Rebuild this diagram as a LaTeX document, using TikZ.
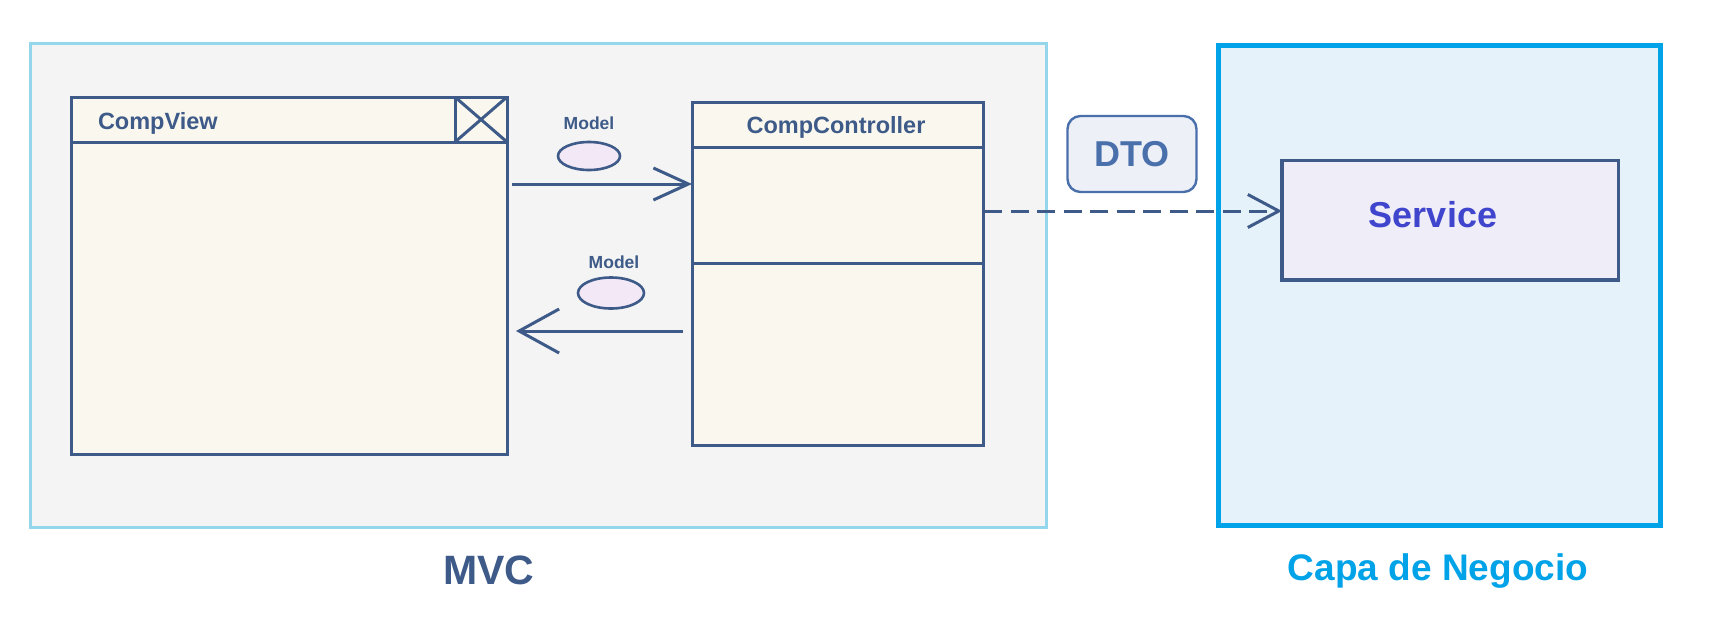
\documentclass[tikz,border=0pt]{standalone}
\usepackage{fontspec}
\setmainfont{Liberation Sans}
\usetikzlibrary{arrows.meta,shapes.geometric}
\definecolor{lineblue}{HTML}{3D5A88}
\definecolor{boxfill}{HTML}{FAF8EE}
\definecolor{mvcfill}{HTML}{F4F4F4}
\definecolor{mvcborder}{HTML}{94D6EC}
\definecolor{capafill}{HTML}{E6F2F9}
\definecolor{capaborder}{HTML}{00A2E8}
\definecolor{ellfill}{HTML}{F3E8F5}
\definecolor{dtoblue}{HTML}{4A70AC}
\definecolor{dtofill}{HTML}{EEF0F8}
\definecolor{servfill}{HTML}{EFEDF7}
\definecolor{servtext}{HTML}{3F45CC}
\tikzset{
  every node/.style={outer sep=0pt},
  umlbox/.style={draw=lineblue, line width=3pt, fill=boxfill, rectangle, inner sep=0pt, anchor=north west},
  sepline/.style={draw=lineblue, line width=3pt},
  modelell/.style={draw=lineblue, line width=2.6pt, fill=ellfill, ellipse, inner sep=0pt},
  modellbl/.style={text=lineblue, font=\bfseries\fontsize{17.5}{20}\selectfont, inner sep=0pt},
  arr/.style={draw=lineblue, line width=3pt},
  titlelbl/.style={font=\bfseries\fontsize{23.5}{27}\selectfont, text=lineblue, inner sep=0pt}
}
\begin{document}
\begin{tikzpicture}[x=1pt,y=-1pt]
\useasboundingbox[fill=white] (0,0) rectangle (1721,640);
% frames
\node[draw=mvcborder, line width=3pt, fill=mvcfill, rectangle, inner sep=0pt, anchor=north west, minimum width=1016pt, minimum height=483.7pt] (mvc) at (30.5,43.5) {};
\node[draw=capaborder, line width=5pt, fill=capafill, rectangle, inner sep=0pt, anchor=north west, minimum width=441.8pt, minimum height=479.8pt] (capa) at (1218.5,45.5) {};
% CompView
\node[umlbox, minimum width=436pt, minimum height=357pt] (view) at (71,97) {};
\draw[sepline] (71,142) -- (507,142);
\draw[sepline] (455,97) rectangle (507,142);
\draw[sepline] (455,97) -- (507,142);
\draw[sepline] (455,142) -- (507,97);
\node[titlelbl, anchor=west] (viewlbl) at (98,123) {CompView};
% CompController
\node[umlbox, minimum width=291pt, minimum height=343pt] (ctrl) at (692,102) {};
\draw[sepline] (692,147) -- (983,147);
\draw[sepline] (692,263) -- (983,263);
\node[titlelbl] (ctrllbl) at (836,127) {CompController};
% Models
\node[modellbl] (m1lbl) at (589,123) {Model};
\node[modelell, minimum width=62pt, minimum height=28pt] (m1) at (589,156) {};
\node[modellbl] (m2lbl) at (614,262) {Model};
\node[modelell, minimum width=66pt, minimum height=31pt] (m2) at (611,293) {};
% arrows
\coordinate (a1s) at (512,184);
\coordinate (a2s) at (683,331);
\draw[arr, -{Straight Barb[length=35pt,width=32pt,line width=3pt]}] (a1s) -- (ctrl.west |- a1s);
\draw[arr, -{Straight Barb[length=40pt,width=44pt,line width=3pt]}] (a2s) -- ([xshift=9pt]view.east |- a2s);
% DTO
\node[draw=dtoblue, line width=2.4pt, fill=dtofill, rounded corners=13pt, rectangle, inner sep=0pt, minimum width=129pt, minimum height=76pt, text=dtoblue, font=\bfseries\fontsize{36}{40}\selectfont] (dto) at (1132,154) {DTO};
% Service
\node[draw=lineblue, line width=3.2pt, fill=servfill, rectangle, inner sep=0pt, anchor=north west, minimum width=336.3pt, minimum height=119.3pt] (serv) at (1282,160.7) {};
\node[text=servtext, font=\bfseries\fontsize{36}{40}\selectfont, inner sep=0pt] (servlbl) at (1433,215) {Service};
\coordinate (ds) at (984,211);
\draw[arr, dash pattern=on 18pt off 8.5pt, -{Straight Barb[length=31pt,width=33pt,line width=3pt]}] (ds) -- (serv.west |- ds);
% labels
\node[text=lineblue, font=\bfseries\fontsize{41}{46}\selectfont, inner sep=0pt] (mvclbl) at (489,570) {MVC};
\node[text=capaborder, font=\bfseries\fontsize{37}{42}\selectfont, inner sep=0pt] (capalbl) at (1438,571) {Capa de Negocio};
\end{tikzpicture}
\end{document}
